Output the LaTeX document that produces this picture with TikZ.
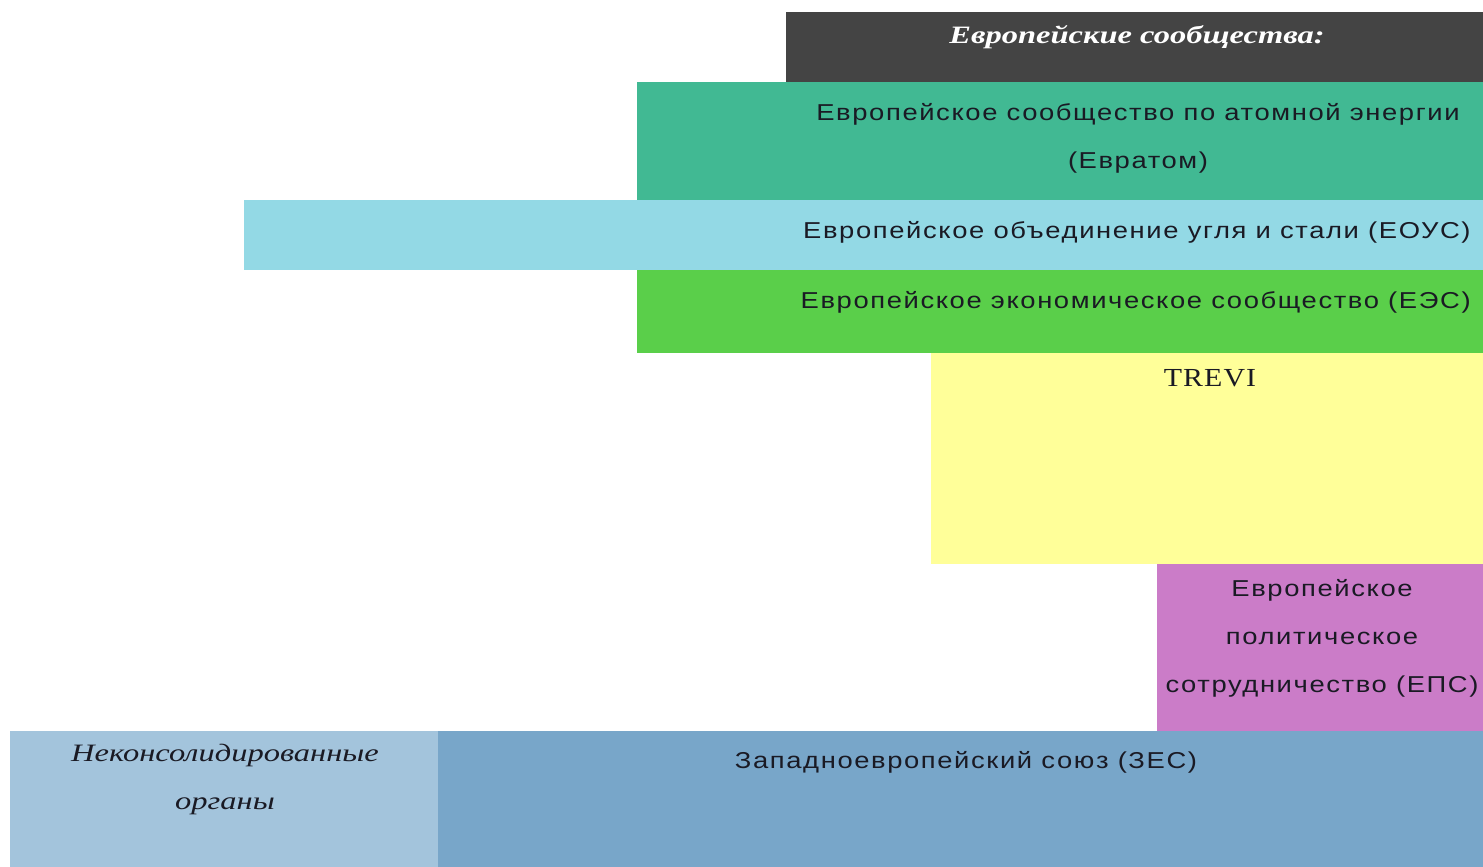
\documentclass[tikz,border=0pt]{standalone}
\usepackage{fontspec}
\setmainfont{Liberation Sans}
\newfontfamily\boxfont[FakeStretch=1.19,LetterSpace=7]{Liberation Sans}
\newfontfamily\hdrfont[FakeStretch=1.3]{Liberation Serif}
\newfontfamily\ncofont[FakeStretch=1.3]{Liberation Serif}
\newfontfamily\trevifont[FakeStretch=1.15,LetterSpace=4]{Liberation Serif}
\definecolor{cDark}{HTML}{444444}
\definecolor{cTeal}{HTML}{41B993}
\definecolor{cCyan}{HTML}{93D9E5}
\definecolor{cGreen}{HTML}{5ACF4A}
\definecolor{cYellow}{HTML}{FFFF99}
\definecolor{cPurple}{HTML}{CB7CC8}
\definecolor{cLight}{HTML}{A3C4DC}
\definecolor{cSteel}{HTML}{78A6C9}
\definecolor{cText}{HTML}{1A1A24}
\tikzset{
  lbl/.style={inner sep=0pt, text=cText, align=center, font={\boxfont\fontsize{11.5}{24}\selectfont}},
}
\begin{document}
\begin{tikzpicture}[x=0.5pt,y=-0.5pt]
\useasboundingbox[fill=white] (0,0) rectangle (1483,867);
\fill[cDark]   (786,12)  rectangle (1483,82);
\fill[cTeal]   (637,82)  rectangle (1483,200);
\fill[cCyan]   (244,200) rectangle (1483,270);
\fill[cGreen]  (637,270) rectangle (1483,353);
\fill[cYellow] (931,353) rectangle (1483,564);
\fill[cPurple] (1157,564) rectangle (1483,731);
\fill[cLight]  (10,731)  rectangle (438,867);
\fill[cSteel]  (438,731) rectangle (1483,867);

\node[lbl, text=white, font={\hdrfont\bfseries\itshape\fontsize{12.5}{14}\selectfont}] (hdr) at (1137,37) {Европейские сообщества:};
\node[lbl, anchor=north] (eur) at (1138,103) {Европейское сообщество по атомной энергии\\(Евратом)};
\node[lbl, anchor=east] (ecsc) at (1471,232) {Европейское объединение угля и стали (ЕОУС)};
\node[lbl, anchor=east] (eec) at (1471,302) {Европейское экономическое сообщество (ЕЭС)};
\node[lbl, font={\trevifont\fontsize{13}{14}\selectfont}] (trevi) at (1210,378) {TREVI};
\node[lbl, anchor=north] (epc) at (1322,579) {Европейское\\политическое\\сотрудничество (ЕПС)};
\node[lbl, anchor=north, font={\ncofont\itshape\fontsize{12.5}{24}\selectfont}] (nco) at (225,744) {Неконсолидированные\\органы};
\node[lbl] (weu) at (966,762) {Западноевропейский союз (ЗЕС)};
\end{tikzpicture}
\end{document}
